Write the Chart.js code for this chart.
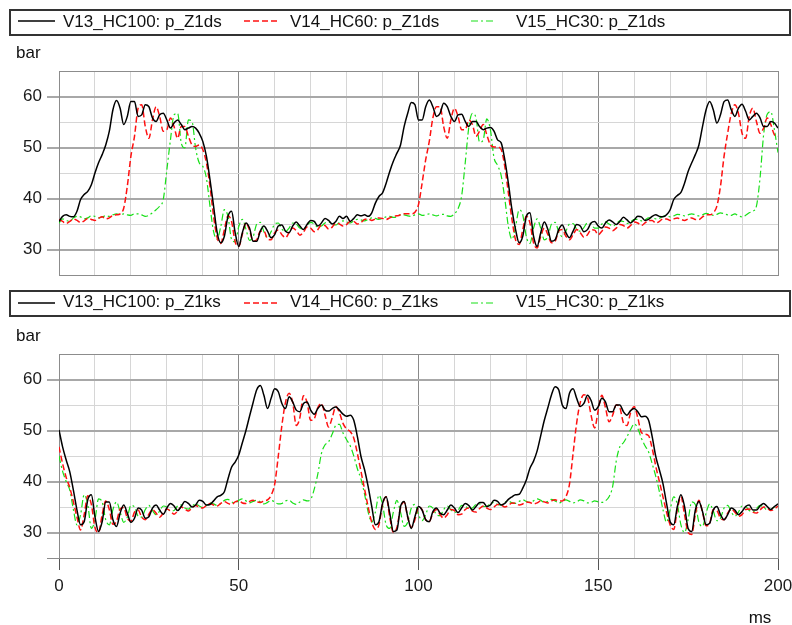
<!DOCTYPE html>
<html>
<head>
<meta charset="utf-8">
<script src="https://cdn.jsdelivr.net/npm/chart.js@4.4.1/dist/chart.umd.min.js"></script>
<style>
  html, body { margin: 0; padding: 0; background: #fff; }
  #wrap { position: relative; width: 792px; height: 625px; }
  canvas { position: absolute; left: 0; }
  #topChart { top: 0; }
  #bottomChart { top: 283px; }
</style>
</head>
<body>
<div id="wrap">
  <canvas id="topChart" width="792" height="283"></canvas>
  <canvas id="bottomChart" width="792" height="342"></canvas>
</div>
<script>
// time axis, 1 ms steps
const timeMs = Array.from({ length: 201 }, (_, i) => i);

const seriesNames = ['V13_HC100', 'V14_HC60', 'V15_HC30'];
const xTicks = [0, 50, 100, 150, 200];
const yTicks = [30, 40, 50, 60];

// upper panel: p_Z1ds [bar]
const dsV13 = [
  35.5, 36.5, 36.8, 36.5, 36.4, 37.5, 39.8, 40.8, 41.4, 42.7,
  45.0, 47.0, 48.6, 50.5, 53.2, 57.4, 59.2, 57.7, 54.5, 56.1,
  59.0, 59.0, 56.1, 56.4, 58.4, 58.0, 55.8, 55.1, 56.4, 56.7,
  55.4, 53.8, 54.8, 55.4, 54.5, 53.5, 53.8, 54.1, 53.8, 52.8,
  51.2, 48.3, 43.7, 38.5, 33.3, 31.3, 32.6, 36.5, 37.5, 33.3,
  30.6, 33.3, 35.2, 34.2, 31.6, 31.6, 33.6, 34.6, 33.6, 32.3,
  32.9, 34.6, 34.8, 33.6, 33.3, 34.6, 35.4, 34.6, 33.9, 34.9,
  35.7, 35.5, 34.6, 35.2, 36.1, 35.7, 35.0, 35.5, 36.5, 36.1,
  36.5, 35.5, 36.1, 36.8, 36.6, 36.8, 36.5, 37.2, 39.1, 40.4,
  41.1, 43.0, 45.3, 47.3, 48.9, 50.5, 54.1, 56.7, 58.8, 58.4,
  55.4, 55.4, 58.0, 59.3, 58.0, 56.1, 56.7, 58.7, 58.0, 56.1,
  55.1, 56.4, 56.5, 55.1, 54.1, 55.1, 55.1, 54.1, 53.5, 53.8,
  53.9, 53.2, 51.5, 50.9, 47.6, 43.0, 37.8, 33.9, 31.3, 32.6,
  36.5, 37.2, 32.6, 30.6, 33.3, 35.4, 33.9, 31.6, 31.9, 33.9,
  34.8, 33.3, 32.3, 33.6, 34.9, 34.6, 33.5, 33.9, 35.2, 35.5,
  34.6, 34.2, 35.2, 35.8, 35.4, 34.9, 35.5, 36.3, 35.8, 35.2,
  35.8, 36.5, 36.4, 35.7, 35.9, 36.5, 36.8, 36.5, 36.4, 36.8,
  37.8, 39.8, 40.6, 41.2, 43.0, 45.3, 47.0, 48.6, 50.5, 54.1,
  57.4, 59.0, 57.4, 54.8, 56.4, 59.0, 59.3, 57.4, 56.1, 57.7,
  58.5, 57.1, 55.4, 56.1, 56.7, 55.8, 54.1, 54.1, 55.1, 54.8,
  53.8
];
const dsV14 = [
  35.9, 35.5, 35.1, 35.5, 36.0, 35.7, 35.3, 35.6, 36.1, 35.9,
  35.7, 36.1, 36.4, 36.0, 36.2, 36.7, 36.8, 37.0, 38.1, 42.4,
  48.3, 52.2, 57.7, 58.4, 54.1, 51.8, 55.4, 58.0, 56.1, 53.2,
  53.5, 55.8, 54.1, 51.8, 54.1, 54.1, 52.2, 50.5, 50.2, 50.5,
  49.6, 47.0, 42.4, 36.5, 32.3, 31.2, 33.9, 36.6, 35.5, 31.5,
  30.6, 33.0, 35.2, 33.8, 31.6, 31.9, 33.6, 33.6, 32.1, 31.9,
  33.3, 33.8, 32.9, 32.3, 33.3, 34.2, 33.7, 32.8, 33.4, 34.4,
  34.2, 33.5, 33.9, 34.8, 34.7, 34.0, 34.4, 35.2, 35.0, 34.6,
  34.9, 35.5, 35.5, 35.0, 35.3, 35.9, 36.0, 35.7, 36.0, 36.2,
  36.1, 35.9, 36.2, 36.5, 36.6, 36.8, 37.0, 37.0, 37.0, 37.3,
  38.8, 43.0, 47.6, 51.2, 55.8, 58.0, 58.0, 54.1, 51.8, 55.4,
  57.7, 56.1, 53.5, 53.5, 55.4, 54.5, 52.2, 53.2, 54.5, 52.5,
  50.5, 50.1, 50.1, 49.6, 46.3, 41.1, 35.9, 31.9, 31.0, 33.9,
  36.5, 35.2, 31.3, 30.3, 32.6, 34.2, 32.9, 31.3, 31.6, 33.6,
  33.9, 32.6, 31.9, 32.9, 33.9, 33.3, 32.4, 32.9, 33.9, 33.8,
  32.9, 33.6, 34.4, 34.2, 33.7, 34.2, 34.9, 34.7, 34.2, 34.7,
  35.4, 35.2, 34.7, 35.2, 35.7, 35.7, 35.2, 35.5, 36.0, 36.0,
  35.7, 36.0, 36.2, 35.9, 35.7, 36.0, 36.2, 35.9, 35.9, 36.4,
  36.8, 36.8, 37.2, 38.5, 42.4, 48.3, 52.8, 56.7, 58.4, 56.7,
  52.8, 51.8, 56.1, 57.7, 55.1, 52.8, 53.8, 55.8, 54.5, 52.5,
  52.2
];
const dsV15 = [
  35.2, 36.0, 35.7, 35.5, 36.2, 36.5, 36.4, 36.0, 36.2, 36.6,
  36.5, 36.2, 36.4, 36.6, 36.5, 36.8, 37.0, 36.8, 37.0, 36.8,
  36.7, 37.0, 37.0, 36.8, 36.5, 36.7, 37.2, 37.8, 38.5, 39.8,
  45.6, 51.5, 56.4, 56.7, 50.9, 49.9, 55.4, 55.1, 49.9, 47.0,
  46.3, 44.0, 38.5, 33.5, 32.0, 34.5, 37.8, 36.5, 32.0, 31.5,
  34.5, 35.9, 34.0, 31.8, 32.5, 35.0, 35.3, 33.5, 32.3, 33.5,
  35.0, 35.2, 34.0, 33.5, 34.2, 35.2, 35.0, 34.2, 34.0, 34.8,
  35.3, 35.0, 34.4, 34.6, 35.2, 35.4, 35.0, 34.8, 35.3, 35.6,
  35.4, 35.2, 35.6, 35.9, 35.8, 35.6, 35.9, 36.2, 36.1, 35.9,
  36.1, 36.4, 36.5, 36.3, 36.4, 36.8, 36.8, 36.6, 36.5, 36.8,
  37.0, 36.7, 36.8, 37.0, 36.8, 36.6, 36.8, 36.9, 36.6, 36.5,
  37.0, 38.0, 40.5, 47.0, 54.0, 56.7, 55.8, 51.0, 51.5, 55.6,
  53.5, 48.0, 46.5, 44.5, 40.0, 34.5, 32.0, 34.5, 37.8, 36.8,
  32.5, 31.2, 34.2, 36.0, 34.2, 31.9, 32.5, 35.0, 35.3, 33.5,
  32.5, 33.6, 35.0, 35.1, 34.0, 33.6, 34.3, 35.2, 35.0, 34.2,
  34.2, 35.0, 35.4, 35.0, 34.6, 35.0, 35.6, 35.5, 35.1, 35.4,
  35.9, 35.9, 35.6, 35.8, 36.2, 36.2, 36.0, 36.1, 36.5, 36.6,
  36.4, 36.6, 36.9, 36.8, 36.6, 36.8, 37.0, 36.8, 36.6, 36.8,
  37.1, 36.9, 36.7, 36.9, 37.2, 37.0, 36.8, 36.7, 37.0, 36.6,
  36.4, 36.7, 37.2, 37.5, 38.5, 44.0, 52.5, 56.5, 57.0, 53.5,
  49.0
];

// lower panel: p_Z1ks [bar]
const ksV13 = [
  50.1, 46.8, 44.2, 41.9, 38.3, 34.4, 31.5, 32.1, 36.4, 37.4,
  33.1, 30.2, 32.1, 36.0, 36.0, 32.5, 31.2, 33.8, 35.4, 33.8,
  32.0, 32.8, 34.8, 34.4, 32.8, 33.1, 34.8, 35.4, 34.4, 33.6,
  34.8, 35.7, 35.2, 34.3, 35.1, 36.1, 35.7, 35.0, 35.4, 36.3,
  36.1, 35.4, 35.5, 36.2, 37.0, 37.3, 38.0, 40.5, 42.8, 43.8,
  45.2, 47.6, 50.0, 52.8, 55.5, 58.0, 58.8, 56.9, 54.3, 56.3,
  58.2, 57.6, 55.3, 54.3, 56.6, 55.6, 54.0, 53.7, 55.3, 55.6,
  54.0, 53.2, 54.3, 55.0, 54.0, 53.8, 54.3, 54.6, 54.0, 53.2,
  52.8, 53.0, 52.0, 48.8, 44.9, 42.3, 39.0, 35.1, 31.5, 32.1,
  35.7, 37.0, 33.8, 30.2, 30.5, 35.1, 36.1, 33.1, 30.8, 33.1,
  35.1, 34.4, 32.5, 32.1, 34.1, 34.8, 33.8, 33.5, 34.4, 35.4,
  34.8, 33.9, 34.8, 35.7, 35.3, 34.4, 35.1, 35.9, 35.9, 35.1,
  35.4, 36.3, 36.1, 35.4, 35.7, 36.5, 37.0, 37.4, 37.5, 38.7,
  40.3, 42.6, 44.0, 46.0, 49.0, 52.0, 54.5, 57.0, 58.6, 58.0,
  55.0, 54.3, 57.3, 58.2, 56.3, 54.7, 55.3, 56.9, 55.9, 54.0,
  54.7, 56.3, 55.6, 53.7, 53.7, 55.0, 55.0, 53.7, 53.0, 53.9,
  54.3, 53.7, 52.7, 52.8, 52.0, 48.8, 44.9, 42.3, 39.6, 35.7,
  32.1, 31.5, 35.1, 37.4, 35.1, 30.8, 30.2, 34.4, 36.1, 34.1,
  31.5, 31.8, 34.4, 35.1, 33.5, 32.5, 33.5, 34.8, 34.4, 33.5,
  34.1, 35.1, 35.4, 34.4, 34.4, 35.2, 35.7, 35.1, 34.5, 35.1,
  35.6
];
const ksV14 = [
  46.8, 43.5, 40.8, 38.8, 36.0, 33.0, 30.5, 33.5, 37.2, 35.5,
  31.0, 30.0, 33.5, 36.2, 34.5, 31.6, 32.2, 34.6, 34.9, 32.8,
  32.2, 34.0, 34.4, 33.0, 32.5, 33.6, 34.5, 33.8, 33.0, 33.8,
  34.6, 34.2, 33.6, 34.2, 35.0, 34.6, 34.2, 34.8, 35.3, 35.0,
  34.8, 35.3, 35.7, 35.4, 35.2, 35.7, 36.1, 35.7, 35.5, 36.0,
  36.2, 35.8, 35.7, 36.1, 36.3, 36.0, 35.9, 36.2, 36.4, 37.3,
  39.5, 45.0, 51.0, 55.5, 57.3, 55.5, 51.0, 52.5, 56.8, 55.5,
  52.0, 52.3, 54.5, 55.3, 53.0, 50.7, 52.5, 54.7, 53.5, 51.4,
  50.3, 49.8, 48.5, 45.5, 42.0, 38.5, 35.0, 32.0, 30.6, 31.5,
  35.5, 37.0, 33.0, 30.0, 31.0, 34.8, 36.0, 33.0, 31.0, 32.5,
  35.0, 34.5, 32.5, 32.2, 33.8, 34.5, 33.5, 32.8, 33.5, 34.5,
  34.3, 33.5, 33.6, 34.5, 34.8, 34.2, 34.0, 34.7, 35.2, 34.8,
  34.5, 35.0, 35.5, 35.4, 35.0, 35.3, 35.8, 35.7, 35.4, 35.6,
  36.0, 35.9, 35.6, 35.8, 36.2, 36.0, 35.8, 36.2, 36.4, 36.2,
  36.2, 37.0, 39.5, 45.5, 51.5, 55.5, 57.0, 56.5, 53.0, 50.5,
  54.0, 56.9, 54.5, 51.7, 53.0, 55.0, 54.5, 51.5, 51.0, 53.5,
  54.7, 52.5, 49.6, 49.3, 49.0, 46.5, 43.0, 40.0, 37.0, 34.0,
  31.5, 30.6, 34.5, 37.0, 33.5, 30.0, 29.6, 33.5, 36.3, 34.0,
  31.3, 31.8, 34.5, 34.3, 32.8, 32.5, 33.8, 34.6, 34.0, 33.2,
  33.5, 34.5, 34.6, 34.0, 33.8, 34.4, 35.0, 34.8, 34.3, 34.6,
  35.2
];
const ksV15 = [
  45.0, 42.0, 40.0, 38.3, 34.5, 31.5, 33.5, 37.4, 35.5, 30.8,
  32.5, 36.6, 36.0, 32.5, 31.5, 34.5, 36.0, 34.0, 32.0, 33.0,
  35.3, 35.0, 33.2, 33.0, 34.5, 35.3, 34.3, 33.5, 34.2, 35.2,
  35.0, 34.2, 34.3, 35.2, 35.4, 34.8, 34.6, 35.2, 35.6, 35.2,
  34.9, 35.3, 35.8, 35.6, 35.3, 35.7, 36.3, 36.5, 36.0, 35.8,
  36.3, 36.6, 36.2, 35.8, 36.1, 36.3, 36.0, 35.6, 35.9, 36.3,
  36.0, 35.6, 35.7, 36.2, 36.3, 35.8, 35.5, 36.0, 36.4, 36.2,
  36.5, 38.5, 41.5, 45.5, 47.2, 47.8, 49.3, 51.0, 51.2, 49.5,
  48.2, 47.0, 45.0, 42.5, 40.5, 37.5, 34.0, 32.0, 34.0, 37.3,
  35.5, 31.5, 30.8, 34.0, 36.3, 34.0, 31.2, 32.0, 34.8, 35.5,
  33.5, 32.3, 33.5, 35.2, 34.8, 33.5, 33.3, 34.5, 35.2, 34.5,
  33.9, 34.4, 35.3, 35.2, 34.6, 34.8, 35.5, 35.6, 35.1, 35.1,
  35.7, 35.9, 35.5, 35.4, 35.9, 36.2, 35.8, 35.7, 36.1, 36.4,
  36.1, 35.9, 36.2, 36.6, 36.3, 35.9, 36.1, 36.5, 36.2, 35.8,
  36.0, 36.4, 36.1, 35.8, 36.0, 36.4, 36.2, 35.8, 35.9, 36.2,
  36.0, 35.9, 36.2, 37.0, 39.0, 44.0, 46.8, 47.6, 48.8, 50.2,
  51.3, 50.4, 48.5, 47.0, 45.8, 43.5, 41.0, 38.0, 34.5, 32.0,
  34.5, 37.0, 35.5, 31.5, 30.0, 32.5, 36.0, 35.5, 32.0, 31.2,
  33.8, 35.6, 34.2, 32.3, 32.8, 34.8, 35.3, 34.0, 33.2, 34.0,
  35.2, 35.1, 34.3, 34.0, 34.7, 35.3, 35.0, 34.4, 34.5, 35.0,
  34.8
];

const FONT = '"Liberation Sans", Arial, sans-serif';
const FRAME = '#8c8c8c';

Chart.defaults.font.family = FONT;
Chart.defaults.font.size = 17;
Chart.defaults.color = '#1a1a1a';

const lineStyles = [
  { borderColor: '#000000', borderWidth: 1.5, borderDash: [] },
  { borderColor: '#ff1010', borderWidth: 1.5, borderDash: [6, 3] },
  { borderColor: '#18e018', borderWidth: 1.2, borderDash: [7, 3, 2, 3] }
];

// legend slots: [line start x, line length, text x]
const legendSlots = [[18, 37, 63], [244, 34, 290], [471, 22, 516]];

// legend frame, unit labels
const panelDecor = {
  id: 'panelDecor',
  afterDraw(chart, args, opts) {
    const ctx = chart.ctx;
    ctx.save();
    ctx.strokeStyle = '#333';
    ctx.lineWidth = 2;
    ctx.strokeRect(10, opts.boxTop, 780, 25);

    ctx.font = '17px ' + FONT;
    ctx.fillStyle = '#111';
    chart.data.datasets.forEach((ds, i) => {
      const slot = legendSlots[i];
      ctx.beginPath();
      ctx.setLineDash(ds.borderDash);
      ctx.strokeStyle = ds.borderColor;
      ctx.lineWidth = ds.borderWidth;
      ctx.moveTo(slot[0], opts.sampleY);
      ctx.lineTo(slot[0] + slot[1], opts.sampleY);
      ctx.stroke();
      ctx.setLineDash([]);
      ctx.fillText(ds.label, slot[2], opts.textY);
    });

    ctx.fillText('bar', 16, 58);
    if (opts.xUnit) {
      ctx.textAlign = 'center';
      ctx.fillText('ms', 760, 340);
    }
    ctx.restore();
  }
};

function makePanel(canvasId, signal, values, isBottom) {
  const datasets = values.map((v, i) => ({
    label: seriesNames[i] + ': ' + signal,
    data: v,
    borderColor: lineStyles[i].borderColor,
    borderWidth: lineStyles[i].borderWidth,
    borderDash: lineStyles[i].borderDash,
    pointRadius: 0,
    fill: false,
    cubicInterpolationMode: 'monotone'
  }));

  return new Chart(document.getElementById(canvasId), {
    type: 'line',
    data: { labels: timeMs, datasets: datasets },
    options: {
      responsive: false,
      animation: false,
      events: [],
      layout: { padding: { top: 71, right: 14, bottom: 0, left: 0 } },
      plugins: {
        legend: { display: false },
        tooltip: { enabled: false },
        panelDecor: isBottom
          ? { boxTop: 8, sampleY: 20, textY: 24, xUnit: true }
          : { boxTop: 10, sampleY: 21, textY: 27, xUnit: false }
      },
      scales: {
        x: {
          type: 'linear',
          min: 0,
          max: 200,
          afterFit: s => {
            s.height = isBottom ? 67 : 8;
            s.paddingLeft = 0;
            s.paddingRight = 0;
          },
          ticks: {
            display: isBottom,
            stepSize: 10,
            autoSkip: false,
            maxRotation: 0,
            padding: 6,
            callback: v => (xTicks.includes(v) ? v : '')
          },
          grid: {
            drawTicks: isBottom,
            tickLength: 12,
            lineWidth: 1,
            color: c => {
              const v = c.tick.value;
              if (v === 200) return FRAME;
              return v % 50 === 0 ? '#8a8a8a' : '#d6d6d6';
            },
            tickColor: c => (xTicks.includes(c.tick.value) ? '#555' : 'rgba(0,0,0,0)')
          },
          border: { display: true, color: FRAME, width: 1 }
        },
        y: {
          min: 25,
          max: 65,
          afterFit: s => {
            s.width = 59;
            s.paddingTop = 0;
            s.paddingBottom = 0;
          },
          ticks: {
            stepSize: 5,
            padding: 5,
            callback: v => (yTicks.includes(v) ? v : '')
          },
          grid: {
            tickLength: 12,
            color: c => {
              const v = c.tick.value;
              if (v === 65 || v === 25) return FRAME;
              return yTicks.includes(v) ? '#a8a8a8' : '#d6d6d6';
            },
            lineWidth: c => (yTicks.includes(c.tick.value) ? 2 : 1),
            tickColor: c => {
              const v = c.tick.value;
              if (yTicks.includes(v)) return '#a8a8a8';
              if (isBottom && v === 25) return FRAME;
              return 'rgba(0,0,0,0)';
            },
            tickWidth: c => (yTicks.includes(c.tick.value) ? 2 : 1)
          },
          border: { display: true, color: FRAME, width: 1 }
        }
      }
    },
    plugins: [panelDecor]
  });
}

makePanel('topChart', 'p_Z1ds', [dsV13, dsV14, dsV15], false);
makePanel('bottomChart', 'p_Z1ks', [ksV13, ksV14, ksV15], true);
</script>
</body>
</html>
